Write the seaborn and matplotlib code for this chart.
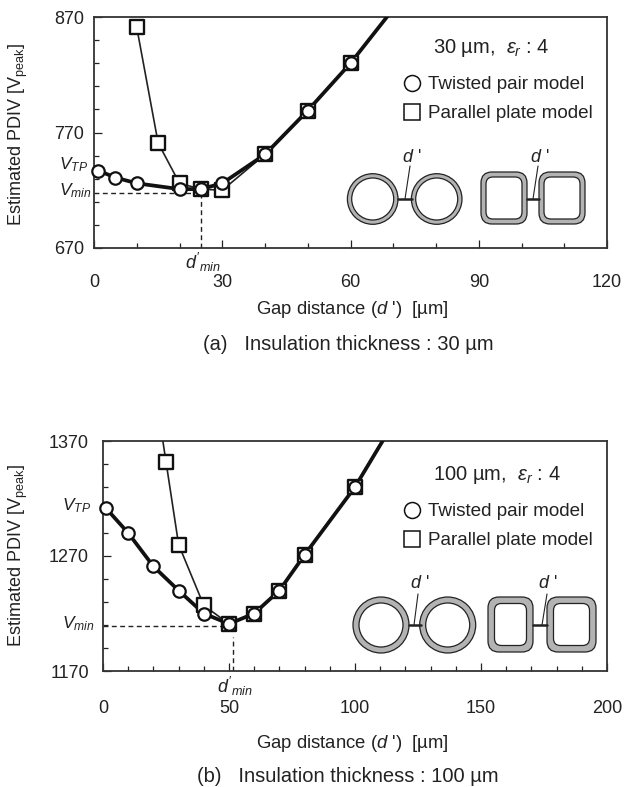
#Getting all the necessary libraries
import pandas as pd
import matplotlib
matplotlib.use("Agg")
import matplotlib.pyplot as plt
import seaborn as sns
from matplotlib.lines import Line2D
from matplotlib.patches import Circle, FancyBboxPatch
from matplotlib.ticker import MultipleLocator

#Values, panel (a)
gap_tp_a = [1, 5, 10, 20, 25, 30, 40, 50, 60, 70]
pdiv_tp_a = [737, 731, 726, 721, 721, 726, 751, 789, 830, 877]
gap_pp_a = [10, 15, 20, 25, 30, 40, 50, 60, 70]
pdiv_pp_a = [861, 761, 726, 721, 720, 751, 789, 830, 877]

#Values, panel (b)
gap_tp_b = [1, 10, 20, 30, 40, 50, 60, 70, 80, 100, 120]
pdiv_tp_b = [1312, 1290, 1261, 1240, 1220, 1211, 1220, 1240, 1271, 1330, 1403]
gap_pp_b = [20, 25, 30, 40, 50, 60, 70, 80, 100, 120]
pdiv_pp_b = [1424, 1352, 1280, 1227, 1211, 1220, 1240, 1271, 1330, 1403]

INK = "#222222"
GREY = "#b3b3b3"

sns.set_style("ticks")
plt.rcParams["font.family"] = ["Liberation Sans", "DejaVu Sans"]
plt.rcParams["mathtext.fontset"] = "custom"
plt.rcParams["mathtext.rm"] = "Liberation Sans"
plt.rcParams["mathtext.it"] = "Liberation Sans:italic"
plt.rcParams["mathtext.default"] = "regular"
plt.rcParams["text.color"] = INK
plt.rcParams["axes.labelcolor"] = INK
plt.rcParams["xtick.color"] = INK
plt.rcParams["ytick.color"] = INK

W, H = 625, 787
fig = plt.figure(figsize=(W / 100, H / 100), dpi=100)


#Placing an axes using pixel positions from the reference
def make_axes(left, top, right, bottom):
    return fig.add_axes([left / W, 1 - bottom / H, (right - left) / W, (bottom - top) / H])


#Drawing one panel: thin parallel plate curve first, thick twisted pair curve on top
def draw_panel(ax, gap_tp, pdiv_tp, gap_pp, pdiv_pp, xmax, ymin, ymax, xmajor, xpad, ypad, vmin, dmin_x, dash_top):
    df_tp = pd.DataFrame({"gap": gap_tp, "pdiv": pdiv_tp})
    df_pp = pd.DataFrame({"gap": gap_pp, "pdiv": pdiv_pp})

    sns.lineplot(data=df_pp, x="gap", y="pdiv", color=INK, lw=1.2, ax=ax, zorder=3)
    sns.lineplot(data=df_tp, x="gap", y="pdiv", color="#111111", lw=2.7, ax=ax, zorder=4)
    sns.scatterplot(data=df_pp[df_pp["pdiv"] < ymax], x="gap", y="pdiv", marker="s", s=95, color="white",
                    edgecolor="#111111", linewidth=1.7, ax=ax, zorder=5, clip_on=False)
    sns.scatterplot(data=df_tp[df_tp["pdiv"] < ymax], x="gap", y="pdiv", marker="o", s=80, color="white",
                    edgecolor="#111111", linewidth=1.6, ax=ax, zorder=6, clip_on=False)

    #Dashed guides for the minimum
    ax.plot([0, dmin_x], [vmin, vmin], color=INK, lw=1, dashes=(3.5, 2.5), zorder=2)
    ax.plot([dmin_x, dmin_x], [ymin, dash_top], color=INK, lw=1, dashes=(3.5, 2.5), zorder=2)

    ax.set_xlim(0, xmax)
    ax.set_ylim(ymin, ymax)
    ax.xaxis.set_major_locator(MultipleLocator(xmajor))
    ax.xaxis.set_minor_locator(MultipleLocator(10))
    ax.yaxis.set_major_locator(MultipleLocator(100, offset=70))
    ax.yaxis.set_minor_locator(MultipleLocator(20, offset=10))
    ax.tick_params(which="major", direction="in", length=5.8, width=0.9, labelsize=13)
    ax.tick_params(which="minor", direction="in", length=3.5, width=0.9)
    ax.tick_params(axis="x", which="major", pad=xpad)
    ax.tick_params(axis="y", which="major", pad=ypad)
    for spine in ax.spines.values():
        spine.set_visible(True)
        spine.set_linewidth(1.3)
        spine.set_color("#333333")
    ax.set_xlabel("")
    ax.set_ylabel("")


ax_a = make_axes(94, 17, 607, 248)
draw_panel(ax_a, gap_tp_a, pdiv_tp_a, gap_pp_a, pdiv_pp_a, 120, 670, 870, 30, 19, 7, 718, 25, 716)
ax_b = make_axes(103, 441, 607, 671)
draw_panel(ax_b, gap_tp_b, pdiv_tp_b, gap_pp_b, pdiv_pp_b, 200, 1170, 1370, 50, 21, 10, 1209, 51.5, 1200)

#Overlay in pixel coordinates for the labels and wire sketches
over = fig.add_axes([0, 0, 1, 1], facecolor="none", zorder=10)
over.set_xlim(0, W)
over.set_ylim(H, 0)
over.axis("off")


def label(x, y, s, size=12, **kw):
    over.text(x, y, s, fontsize=size, ha="center", va="center", **kw)


label(18, 135, r"Estimated PDIV [V$_{\mathrm{peak}}$]", size=13, rotation=90)
label(18, 556, r"Estimated PDIV [V$_{\mathrm{peak}}$]", size=13, rotation=90)
label(352, 310, r"Gap distance ($\mathit{d}$ ')  [µm]", size=13.3)
label(352, 743, r"Gap distance ($\mathit{d}$ ')  [µm]", size=13.3)
label(348, 345, "(a)   Insulation thickness : 30 µm", size=14.5)
label(348, 776, "(b)   Insulation thickness : 100 µm", size=14.5)
label(74, 165, r"$\mathit{V}_{\mathit{TP}}$", size=12.5)
label(75, 191, r"$\mathit{V}_{\mathit{min}}$", size=12.5)
label(77, 506, r"$\mathit{V}_{\mathit{TP}}$", size=12.5)
label(78, 624, r"$\mathit{V}_{\mathit{min}}$", size=12.5)
label(203, 262, r"$\mathit{d}'_{\mathit{min}}$", size=13)
label(235, 686, r"$\mathit{d}'_{\mathit{min}}$", size=13)
label(491, 48, r"30 µm,  $\mathit{\varepsilon}_{\mathit{r}}$ : 4", size=14.5)
label(497, 475, r"100 µm,  $\mathit{\varepsilon}_{\mathit{r}}$ : 4", size=14.5)

#Legends
handles = [Line2D([], [], ls="none", marker="o", ms=11.5, mfc="white", mec="#111111", mew=1.1),
           Line2D([], [], ls="none", marker="s", ms=11.5, mfc="white", mec="#111111", mew=1.1)]
names = ["Twisted pair model", "Parallel plate model"]
leg_a = over.legend(handles, names, loc="upper left", bbox_to_anchor=(403 / W, 1 - 76 / H), frameon=False,
                    fontsize=13.6, handlelength=1.0, handletextpad=0.3, labelspacing=0.62, borderpad=0, borderaxespad=0)
over.add_artist(leg_a)
over.legend(handles, names, loc="upper left", bbox_to_anchor=(403 / W, 1 - 503 / H), frameon=False,
            fontsize=13.6, handlelength=1.0, handletextpad=0.3, labelspacing=0.62, borderpad=0, borderaxespad=0)


#Sketch of the wire cross sections with the gap d'
def sketch(cx1, cx2, cy, r_out, r_in, sq1, sq2, sq_top, sq_bot, wall, hline1, hline2, lead1, lead2, lead_top, tx1, tx2, ty):
    for cx in (cx1, cx2):
        over.add_patch(Circle((cx, cy), r_out, fc=GREY, ec=INK, lw=0.9))
        over.add_patch(Circle((cx, cy), r_in, fc="white", ec=INK, lw=0.9))
    for x0, x1 in (sq1, sq2):
        over.add_patch(FancyBboxPatch((x0 + 11, sq_top + 11), x1 - x0 - 22, sq_bot - sq_top - 22,
                                      boxstyle="round,pad=11,rounding_size=11", fc=GREY, ec=INK, lw=0.9))
        over.add_patch(FancyBboxPatch((x0 + wall + 7, sq_top + wall + 7), x1 - x0 - 2 * wall - 14,
                                      sq_bot - sq_top - 2 * wall - 14, boxstyle="round,pad=7,rounding_size=7",
                                      fc="white", ec=INK, lw=0.9))
    over.plot(hline1, [cy, cy], color=INK, lw=1.8)
    over.plot(hline2, [cy, cy], color=INK, lw=1.8)
    over.plot(lead1, [lead_top, cy], color=INK, lw=0.8)
    over.plot(lead2, [lead_top, cy], color=INK, lw=0.8)
    label(tx1, ty, r"$\mathit{d}$ '", size=13)
    label(tx2, ty, r"$\mathit{d}$ '", size=13)


sketch(372.7, 436.7, 199, 25.3, 21, (481, 527), (539, 585), 172, 224, 5,
       (398, 412), (527, 539), (410, 405), (538, 533), 166, 412, 540, 157)
sketch(381, 447.7, 625, 28, 22, (488, 533), (547, 596), 597, 652, 6.5,
       (409, 421), (533, 547), (418, 414), (547, 542), 594, 420, 548, 583)

fig.savefig("out.png", dpi=100)
